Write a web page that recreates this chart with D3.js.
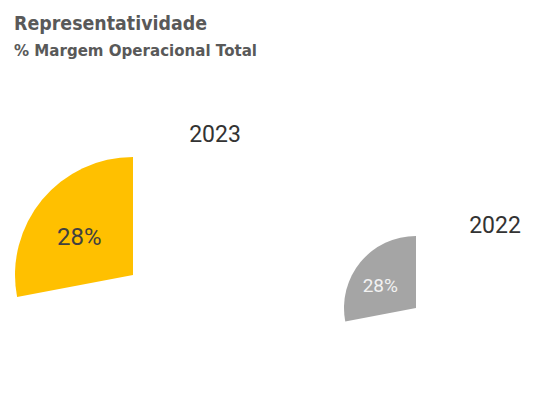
<!DOCTYPE html>
<html><head><meta charset="utf-8">
<script src="https://cdn.jsdelivr.net/npm/d3@7"></script>
<style>html,body{margin:0;padding:0;background:#fff;} svg{display:block;}</style>
</head><body>
<svg id="c" width="538" height="412"></svg>
<script>
const years = ["2023", "2022"];
const shares = [28, 28];          // % da margem operacional total
const colors = ["#FFC000", "#A5A5A5"];
const labelColors = ["#404040", "#F2F2F2"];

const svg = d3.select("#c");

svg.append("text").attr("x", 14).attr("y", 30)
  .attr("font-family", "DejaVu Sans").attr("font-weight", "bold")
  .attr("font-size", 20).attr("fill", "#595959")
  .attr("textLength", 193).attr("lengthAdjust", "spacingAndGlyphs")
  .text("Representatividade");
svg.append("text").attr("x", 14).attr("y", 56)
  .attr("font-family", "DejaVu Sans").attr("font-weight", "bold")
  .attr("font-size", 16.5).attr("fill", "#595959")
  .attr("textLength", 243).attr("lengthAdjust", "spacingAndGlyphs")
  .text("% Margem Operacional Total");

// layout for the two pies
const layout = [
  {cx: 133, cy: 275, r: 118, labelR: 0.57, dx: -2, dy: 5, fs: 24, yearX: 215, yearY: 142},
  {cx: 416, cy: 308, r: 72, labelR: 0.59, dx: -3, dy: 5, fs: 19, yearX: 495, yearY: 233}
];

const pie = d3.pie().sort(null).startAngle(0).endAngle(-2 * Math.PI);

years.forEach((yr, i) => {
  const L = layout[i];
  const arcs = pie([shares[i], 100 - shares[i]]);
  const g = svg.append("g").attr("transform", `translate(${L.cx},${L.cy})`);
  const arc = d3.arc().innerRadius(0).outerRadius(L.r);
  const a = arcs[0];
  g.append("path").attr("d", arc(a)).attr("fill", colors[i]);
  const la = d3.arc().innerRadius(L.r * L.labelR).outerRadius(L.r * L.labelR);
  const [lx, ly] = la.centroid(a);
  g.append("text").attr("x", lx + L.dx).attr("y", ly + L.dy)
    .attr("text-anchor", "middle").attr("dominant-baseline", "central")
    .attr("font-family", "Roboto").attr("font-size", L.fs)
    .attr("fill", labelColors[i])
    .text(shares[i] + "%");
  svg.append("text").attr("x", L.yearX).attr("y", L.yearY)
    .attr("text-anchor", "middle")
    .attr("font-family", "Roboto").attr("font-size", 23)
    .attr("fill", "#333333")
    .text(yr);
});
</script>
</body></html>
